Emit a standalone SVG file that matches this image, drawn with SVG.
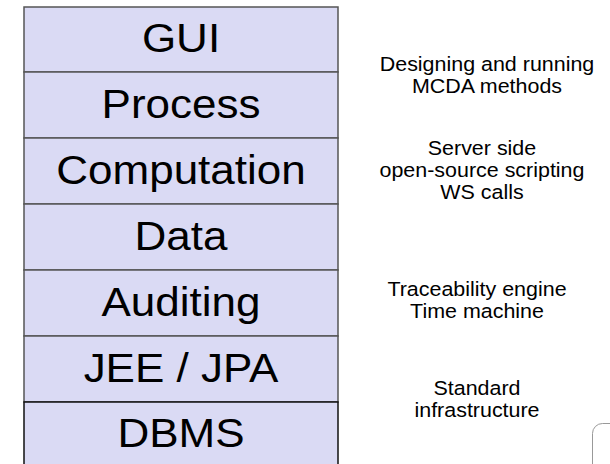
<svg xmlns="http://www.w3.org/2000/svg" width="610" height="464" viewBox="0 0 610 464">
<style>
.box{fill:#dadaf4;stroke:#555;stroke-width:1.5}
.lbl{font-family:"Liberation Sans",Arial,sans-serif;font-size:40px;fill:#000;text-anchor:middle}
.note{font-family:"Liberation Sans",Arial,sans-serif;font-size:19.5px;fill:#000;text-anchor:middle}
</style>
<rect x="0" y="0" width="610" height="464" fill="#fff"/>
<g id="gui"><rect class="box" x="24" y="7" width="314" height="65"/><text class="lbl" transform="translate(181,52) scale(1.1,1)">GUI</text></g>
<g id="process"><rect class="box" x="24" y="72" width="314" height="66"/><text class="lbl" transform="translate(181,118) scale(1.1,1)">Process</text></g>
<g id="computation"><rect class="box" x="24" y="138" width="314" height="66"/><text class="lbl" transform="translate(181,184) scale(1.1,1)">Computation</text></g>
<g id="data"><rect class="box" x="24" y="204" width="314" height="66"/><text class="lbl" transform="translate(181,250) scale(1.1,1)">Data</text></g>
<g id="auditing"><rect class="box" x="24" y="270" width="314" height="66"/><text class="lbl" transform="translate(181,316) scale(1.1,1)">Auditing</text></g>
<g id="jee"><rect class="box" x="24" y="336" width="314" height="66"/><text class="lbl" transform="translate(181,382) scale(1.1,1)">JEE / JPA</text></g>
<g id="dbms"><rect class="box" x="24" y="402" width="314" height="70" style="stroke:#111"/><text class="lbl" transform="translate(181,447) scale(1.1,1)">DBMS</text></g>
<g id="notes">
<text class="note" transform="translate(487,71) scale(1.1,1)">Designing and running</text>
<text class="note" transform="translate(487,93) scale(1.1,1)">MCDA methods</text>
<text class="note" transform="translate(482,155) scale(1.1,1)">Server side</text>
<text class="note" transform="translate(482,177) scale(1.1,1)">open-source scripting</text>
<text class="note" transform="translate(482,199) scale(1.1,1)">WS calls</text>
<text class="note" transform="translate(477,296) scale(1.1,1)">Traceability engine</text>
<text class="note" transform="translate(477,318) scale(1.1,1)">Time machine</text>
<text class="note" transform="translate(477,395) scale(1.1,1)">Standard</text>
<text class="note" transform="translate(477,417) scale(1.1,1)">infrastructure</text>
</g>
<g id="connectors"></g>
<g id="corner"><rect x="592.5" y="423.5" width="60" height="60" rx="10" fill="#fff" stroke="#999" stroke-width="1"/></g>
</svg>
